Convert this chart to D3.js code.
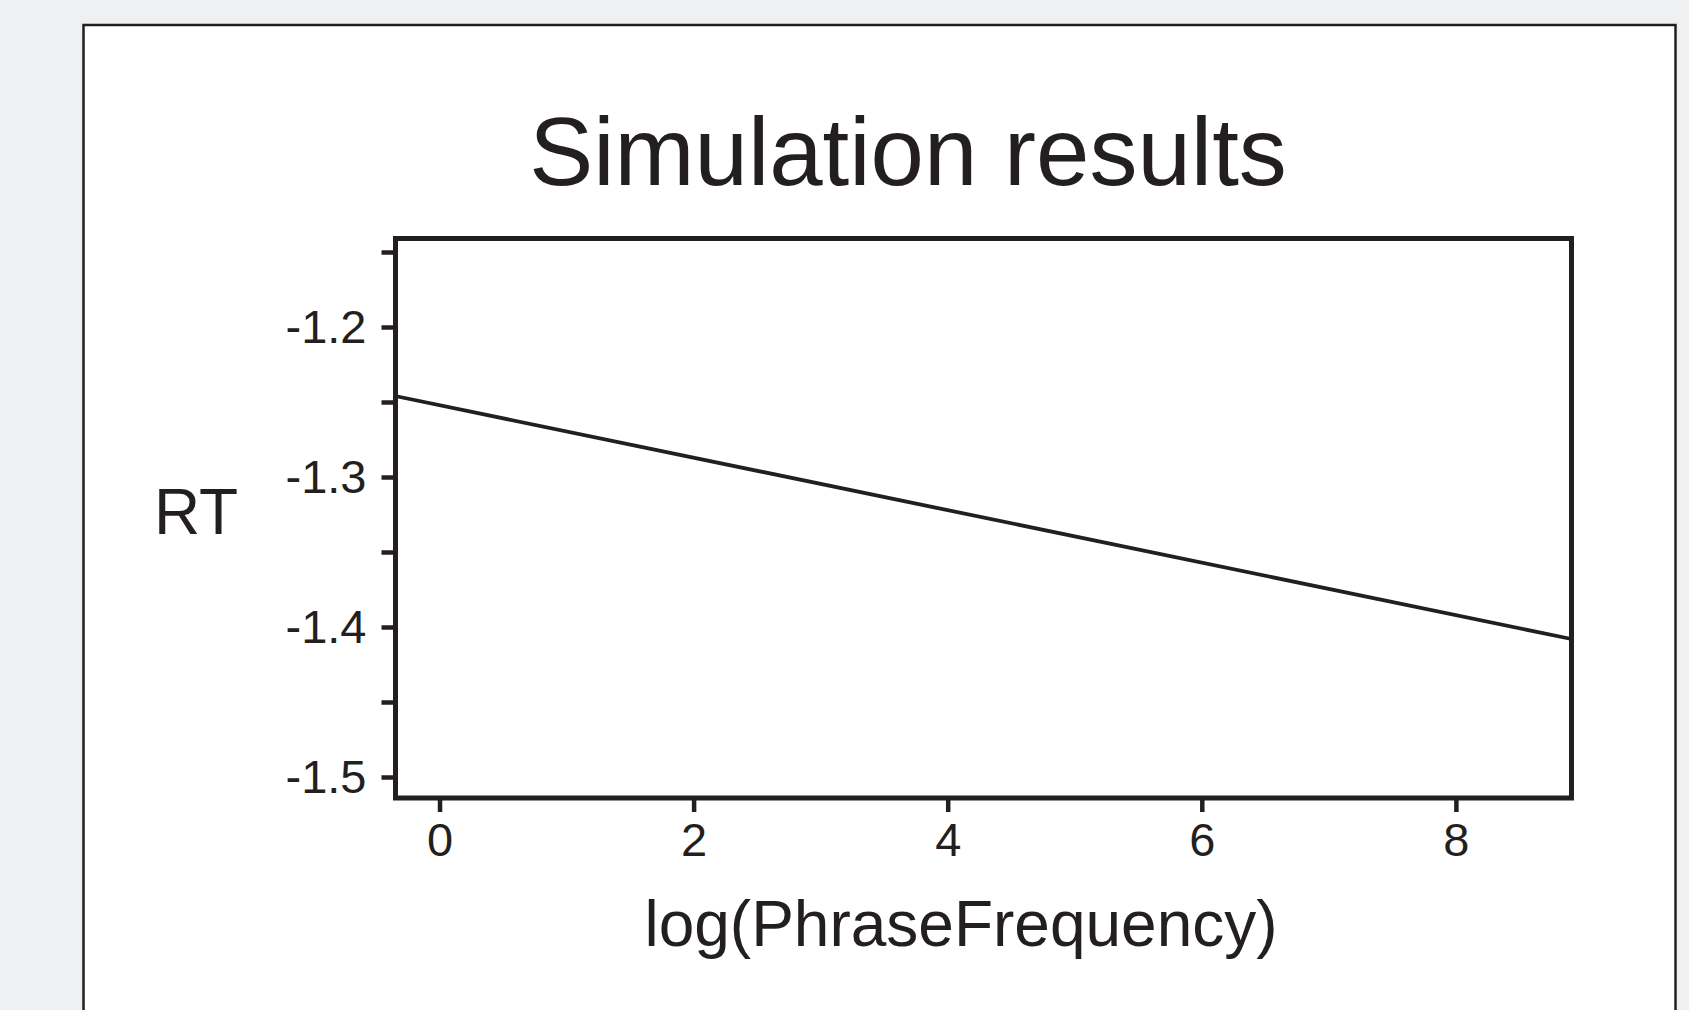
<!DOCTYPE html>
<html>
<head>
<meta charset="utf-8">
<script src="https://cdn.jsdelivr.net/npm/d3@7"></script>
<style>
  body { margin: 0; background: #eff0f2; }
  text { font-family: "Liberation Sans", Arial, Helvetica, sans-serif; fill: #231f20; }
</style>
</head>
<body>
<div id="chart"></div>
<script>
// data
var phraseFreq = [-0.35, 8.91];      // log(PhraseFrequency), ends of the fitted line
var rtValues = [-1.246, -1.408];     // RT at those ends
var xTicks = [0, 2, 4, 6, 8];
var yTicks = [-1.5, -1.4, -1.3, -1.2];
var yMinorTicks = [-1.45, -1.35, -1.25, -1.15];
var xDomain = [-0.3465, 8.91];
var yDomain = [-1.514, -1.141];

var svgWidth = 1689;
var svgHeight = 1010;
var ink = "#231f20";

// plot frame in page pixels
var margin = { top: 238.5, left: 395.5, right: 1571.5, bottom: 798 };
var width = margin.right - margin.left;
var height = margin.bottom - margin.top;

var svg = d3.select("#chart")
  .append("svg")
  .attr("width", svgWidth)
  .attr("height", svgHeight);

// grey page + white panel with thin border (runs off the bottom)
svg.append("rect")
  .attr("width", svgWidth).attr("height", svgHeight)
  .attr("fill", "#eff0f2");

svg.append("rect")
  .attr("x", 83.5).attr("y", 25)
  .attr("width", 1592).attr("height", 1020)
  .attr("fill", "#ffffff")
  .attr("stroke", ink)
  .attr("stroke-width", 2.5);

var chartGroup = svg.append("g")
  .attr("transform", `translate(${margin.left}, ${margin.top})`);

var xScale = d3.scaleLinear().domain(xDomain).range([0, width]);
var yScale = d3.scaleLinear().domain(yDomain).range([height, 0]);

// axes
var bottomAxis = d3.axisBottom(xScale)
  .tickValues(xTicks)
  .tickFormat(d3.format("d"))
  .tickSize(14)
  .tickPadding(11);

var leftAxis = d3.axisLeft(yScale)
  .tickValues(yTicks)
  .tickFormat(d3.format(".1f"))
  .tickSize(14)
  .tickPadding(15);

var leftMinor = d3.axisLeft(yScale)
  .tickValues(yMinorTicks)
  .tickFormat("")
  .tickSize(14);

var xg = chartGroup.append("g")
  .attr("transform", `translate(0, ${height})`)
  .call(bottomAxis);

var yg = chartGroup.append("g").call(leftAxis);
var ym = chartGroup.append("g").call(leftMinor);

[xg, yg, ym].forEach(function(g) {
  g.select(".domain").remove();
  g.selectAll("line").attr("stroke", ink).attr("stroke-width", 4.5);
  g.selectAll("text")
    .attr("fill", ink)
    .style("font-size", "47px");
});
// minus sign as plain hyphen like the original
yg.selectAll("text").text(d => d3.format(".1f")(d).replace("\u2212", "-"));

// fitted line
var lineData = phraseFreq.map((x, i) => ({ x: x, y: rtValues[i] }));
var line = d3.line().x(d => xScale(d.x)).y(d => yScale(d.y));

chartGroup.append("path")
  .datum(lineData)
  .attr("d", line)
  .attr("fill", "none")
  .attr("stroke", ink)
  .attr("stroke-width", 3.8);

// frame
chartGroup.append("rect")
  .attr("width", width)
  .attr("height", height)
  .attr("fill", "none")
  .attr("stroke", ink)
  .attr("stroke-width", 5);

// labels
svg.append("text")
  .attr("x", 908).attr("y", 185)
  .attr("text-anchor", "middle")
  .style("font-size", "96px")
  .text("Simulation results");

svg.append("text")
  .attr("x", 196).attr("y", 534)
  .attr("text-anchor", "middle")
  .style("font-size", "64px")
  .text("RT");

svg.append("text")
  .attr("x", 961).attr("y", 946)
  .attr("text-anchor", "middle")
  .style("font-size", "64px")
  .text("log(PhraseFrequency)");
</script>
</body>
</html>
